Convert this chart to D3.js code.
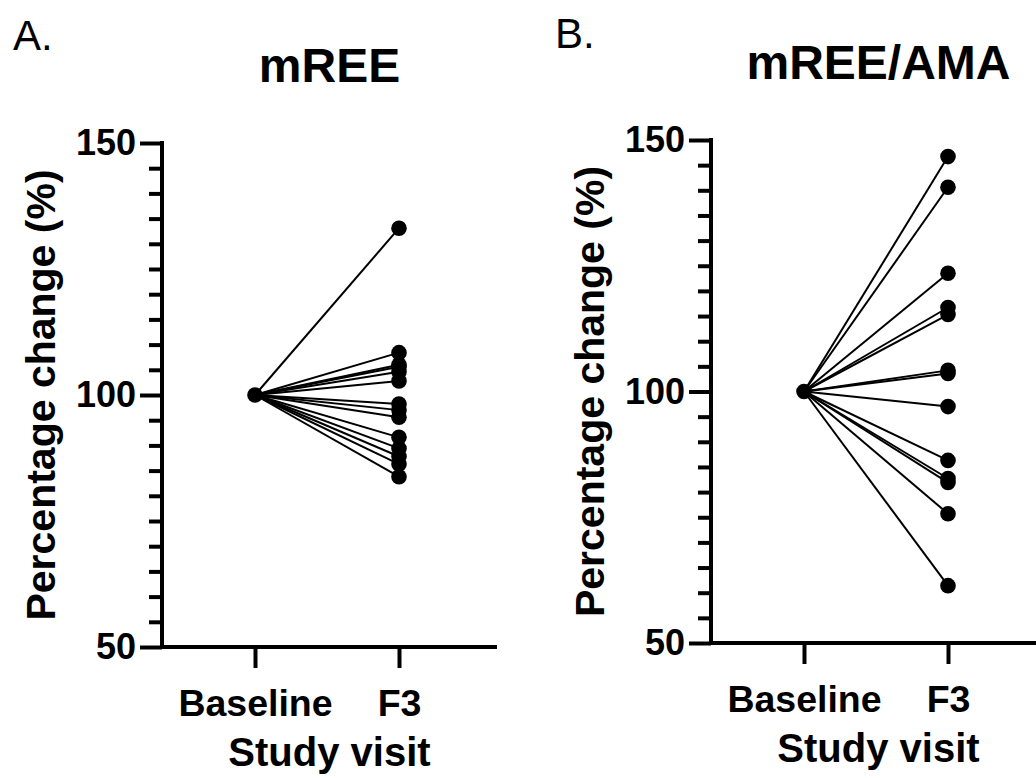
<!DOCTYPE html>
<html>
<head>
<meta charset="utf-8">
<script src="https://cdn.jsdelivr.net/npm/d3@7"></script>
<style>
  body { margin: 0; background: #fff; }
  svg text { font-family: "Liberation Sans", Arial, sans-serif; fill: #000; }
</style>
</head>
<body>
<div id="chart"></div>
<script>
// study visits (x categories)
const visits = ["Baseline", "F3"]
const yTicks = [50, 100, 150]

// percentage change at F3, baseline is 100 for everyone
const mreeF3 = [133.1, 108.4, 106.0, 105.6, 104.6, 102.8, 98.2, 97.0, 95.6, 91.6, 89.4, 87.8, 86.3, 83.8]
const mreeAmaF3 = [146.7, 140.6, 123.5, 116.7, 115.3, 104.2, 103.6, 97.0, 86.3, 82.7, 81.9, 75.7, 61.4]
const baselineValue = 100

const svg = d3.select("#chart")
    .append("svg")
    .attr("width", 1036)
    .attr("height", 778)

const drawPanel = (opts) => {
    const { letter, title, values, left, top, bottom, letterPos, titleY } = opts
    const axisLen = 335
    const sw = 4

    const g = svg.append("g")

    /* scales */
    let y = d3.scaleLinear()
        .domain([50, 150])
        .range([bottom, top])
    let x = d3.scalePoint()
        .domain(visits)
        .range([left + 93, left + 237])

    /* panel letter and title */
    g.append("text")
        .attr("x", letterPos[0])
        .attr("y", letterPos[1])
        .style("font-size", "42px")
        .text(letter)
    g.append("text")
        .attr("x", left + axisLen / 2)
        .attr("y", titleY)
        .attr("text-anchor", "middle")
        .style("font-size", "48px")
        .style("font-weight", "bold")
        .text(title)

    /* Y-axis: minor ticks every 5 */
    const minor = d3.range(50, 151, 5).filter(d => !yTicks.includes(d))
    g.append("g")
        .attr("transform", `translate(${left}, 0)`)
        .call(d3.axisLeft(y).tickValues(minor).tickSize(13).tickFormat(""))
        .call(a => a.select(".domain").remove())
        .selectAll("line").attr("stroke-width", sw)

    const yAxis = g.append("g")
        .attr("transform", `translate(${left}, 0)`)
        .call(d3.axisLeft(y).tickValues(yTicks).tickSize(22).tickPadding(4))
    yAxis.select(".domain").remove()
    yAxis.selectAll("line").attr("stroke-width", sw)
    yAxis.selectAll("text")
        .style("font-size", "36px")
        .style("font-weight", "bold")
        .attr("font-family", null)

    g.append("line")
        .attr("x1", left).attr("x2", left)
        .attr("y1", y(150) - sw / 2).attr("y2", y(50) + sw / 2)
        .attr("stroke", "#000")
        .attr("stroke-width", sw)

    /* X-axis */
    const xAxis = g.append("g")
        .attr("transform", `translate(0, ${bottom})`)
        .call(d3.axisBottom(x).tickSize(21).tickPadding(9))
    xAxis.select(".domain").remove()
    xAxis.selectAll("line").attr("stroke-width", sw)
    xAxis.selectAll("text")
        .style("font-size", "37.5px")
        .style("font-weight", "bold")
        .attr("font-family", null)
        .attr("dy", "1.05em")

    g.append("line")
        .attr("x1", left - sw / 2).attr("x2", left + axisLen)
        .attr("y1", bottom).attr("y2", bottom)
        .attr("stroke", "#000")
        .attr("stroke-width", sw)

    /* axis titles */
    g.append("text")
        .attr("x", left + axisLen / 2)
        .attr("y", bottom + 119)
        .attr("text-anchor", "middle")
        .style("font-size", "40px")
        .style("font-weight", "bold")
        .text("Study visit")

    g.append("text")
        .attr("transform", `translate(${left - 107}, ${y(100)}) rotate(-90)`)
        .attr("text-anchor", "middle")
        .style("font-size", "41px")
        .style("font-weight", "bold")
        .text("Percentage change (%)")

    /* paired lines */
    g.selectAll(".pair")
        .data(values)
        .enter()
        .append("line")
        .attr("x1", x("Baseline"))
        .attr("y1", y(baselineValue))
        .attr("x2", x("F3"))
        .attr("y2", d => y(d))
        .attr("stroke", "#000")
        .attr("stroke-width", 2)

    g.selectAll(".f3")
        .data(values)
        .enter()
        .append("circle")
        .attr("cx", x("F3"))
        .attr("cy", d => y(d))
        .attr("r", 7.8)
        .attr("fill", "#000")

    g.append("circle")
        .attr("cx", x("Baseline"))
        .attr("cy", y(baselineValue))
        .attr("r", 7.8)
        .attr("fill", "#000")
}

drawPanel({ letter: "A.", title: "mREE", values: mreeF3, left: 162, top: 143, bottom: 647, letterPos: [13, 50], titleY: 82 })
drawPanel({ letter: "B.", title: "mREE/AMA", values: mreeAmaF3, left: 711, top: 140, bottom: 643, letterPos: [555, 48], titleY: 79 })
</script>
</body>
</html>
